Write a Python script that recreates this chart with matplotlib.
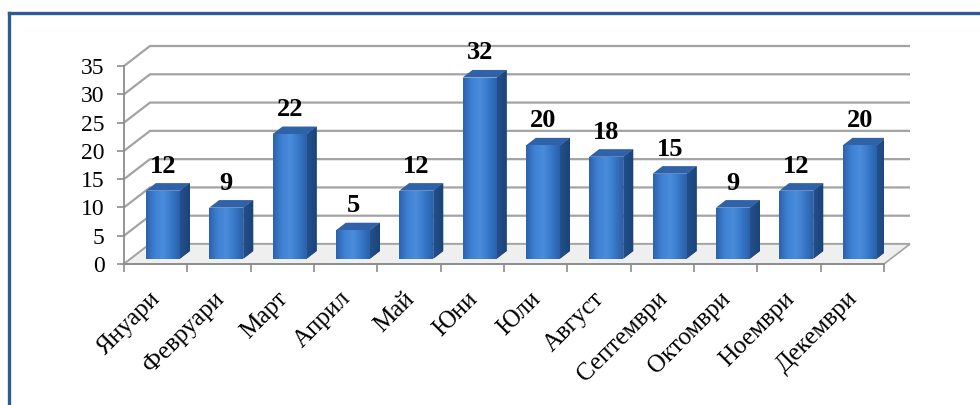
import numpy as np
import matplotlib.pyplot as plt
from matplotlib.patches import Polygon
from matplotlib.lines import Line2D
from matplotlib.colors import LinearSegmentedColormap
from matplotlib.transforms import ScaledTranslation

months = ['Януари', 'Февруари', 'Март', 'Април', 'Май', 'Юни',
          'Юли', 'Август', 'Септември', 'Октомври', 'Ноември', 'Декември']
values = [12, 9, 22, 5, 12, 32, 20, 18, 15, 9, 12, 20]
y_ticks = [0, 5, 10, 15, 20, 25, 30, 35]

plt.rcParams['font.family'] = ['Liberation Serif', 'DejaVu Serif']

fig = plt.figure(figsize=(9.8, 4.05), dpi=100)
# front plane of the pseudo-3D box
ax = fig.add_axes([124 / 980, 1 - 264 / 405, 760 / 980, 198 / 405])
n = len(values)
ymax = 35
ax.set_xlim(0, n)
ax.set_ylim(0, ymax)

# depth offset of the back wall in data units
DX = 26 / (760 / n)
DY = 20 / (198 / ymax)
grid_c = '#a3a3a3'

# floor
ax.add_patch(Polygon([(0, 0), (n, 0), (n + DX, DY), (DX, DY)], closed=True,
                     facecolor='#efefef', edgecolor=grid_c, lw=1.2,
                     zorder=1, clip_on=False))

# back wall + left wall gridlines
for t in y_ticks:
    ax.plot([0, DX, n + DX], [t, t + DY, t + DY], color=grid_c, lw=1.6,
            zorder=0.5, clip_on=False, solid_capstyle='butt')

front_cmap = LinearSegmentedColormap.from_list(
    'front', ['#2c63ad', '#3f82d4', '#4a8cdc', '#3676c6', '#2a5ea6'])
side_cmap = LinearSegmentedColormap.from_list('side', ['#234f8c', '#1b4477'])

d0, d1 = 0.27, 0.65
bw = 0.54
for i, v in enumerate(values):
    x0 = i + 0.235 + d0 * DX
    x1 = x0 + bw
    yb = d0 * DY
    yt = v + d0 * DY
    sx = (d1 - d0) * DX
    sy = (d1 - d0) * DY
    # side face
    side = Polygon([(x1, yb), (x1 + sx, yb + sy), (x1 + sx, yt + sy), (x1, yt)],
                   closed=True, facecolor='#21508f', edgecolor='none', zorder=3)
    ax.add_patch(side)
    grad = np.linspace(0, 1, 50).reshape(1, -1)
    im = ax.imshow(grad, extent=[x1, x1 + sx, yb, yt + sy], cmap=side_cmap,
                   aspect='auto', zorder=3.1, interpolation='bilinear')
    im.set_clip_path(side)
    # top face
    ax.add_patch(Polygon([(x0, yt), (x1, yt), (x1 + sx, yt + sy), (x0 + sx, yt + sy)],
                         closed=True, facecolor='#2f62a8', edgecolor='none', zorder=3))
    # front face with horizontal gradient
    front = Polygon([(x0, yb), (x1, yb), (x1, yt), (x0, yt)], closed=True,
                    facecolor='none', edgecolor='none', zorder=3)
    ax.add_patch(front)
    im = ax.imshow(grad, extent=[x0, x1, yb, yt], cmap=front_cmap,
                   aspect='auto', zorder=3.2, interpolation='bilinear')
    im.set_clip_path(front)
    ax.annotate(str(v), ((x0 + x1) / 2, v + d1 * DY), xytext=(0, 4),
                textcoords='offset points', ha='center', va='bottom',
                fontsize=19, fontweight='bold', zorder=5)

ax.set_xlim(0, n)
ax.set_ylim(0, ymax)

for s in ['top', 'right']:
    ax.spines[s].set_visible(False)
for s in ['left', 'bottom']:
    ax.spines[s].set_color('#8c8c8c')
    ax.spines[s].set_linewidth(1.3)
    ax.spines[s].set_zorder(2)

ax.set_yticks(y_ticks)
ax.set_yticklabels([str(t) for t in y_ticks])
ax.tick_params(axis='y', direction='out', length=5, width=1.2, color='#8c8c8c',
               labelsize=17, pad=9)
ax.set_xticks(np.arange(n + 1))
ax.set_xticklabels([])
ax.tick_params(axis='x', which='major', direction='out', length=6, width=1.2,
               color='#8c8c8c')
ax.set_xticks(np.arange(n) + 0.5, minor=True)
ax.set_xticklabels(months, minor=True, rotation=45, ha='right',
                   rotation_mode='anchor', fontsize=18)
ax.tick_params(axis='x', which='minor', length=0, pad=17)
shift = ScaledTranslation(-6 / 100, 0, fig.dpi_scale_trans)
for lbl in ax.get_xticklabels(minor=True):
    lbl.set_transform(lbl.get_transform() + shift)
ax.patch.set_visible(False)

# outer frame of the chart area
fc = '#2e5b92'
fig.add_artist(Line2D([9 / 980, 1], [1 - 13 / 405, 1 - 13 / 405],
                      transform=fig.transFigure, color=fc, lw=2.4))
fig.add_artist(Line2D([9 / 980, 9 / 980], [0, 1 - 13 / 405],
                      transform=fig.transFigure, color=fc, lw=2.4))

fig.savefig('out.png', dpi=100, facecolor='white')
